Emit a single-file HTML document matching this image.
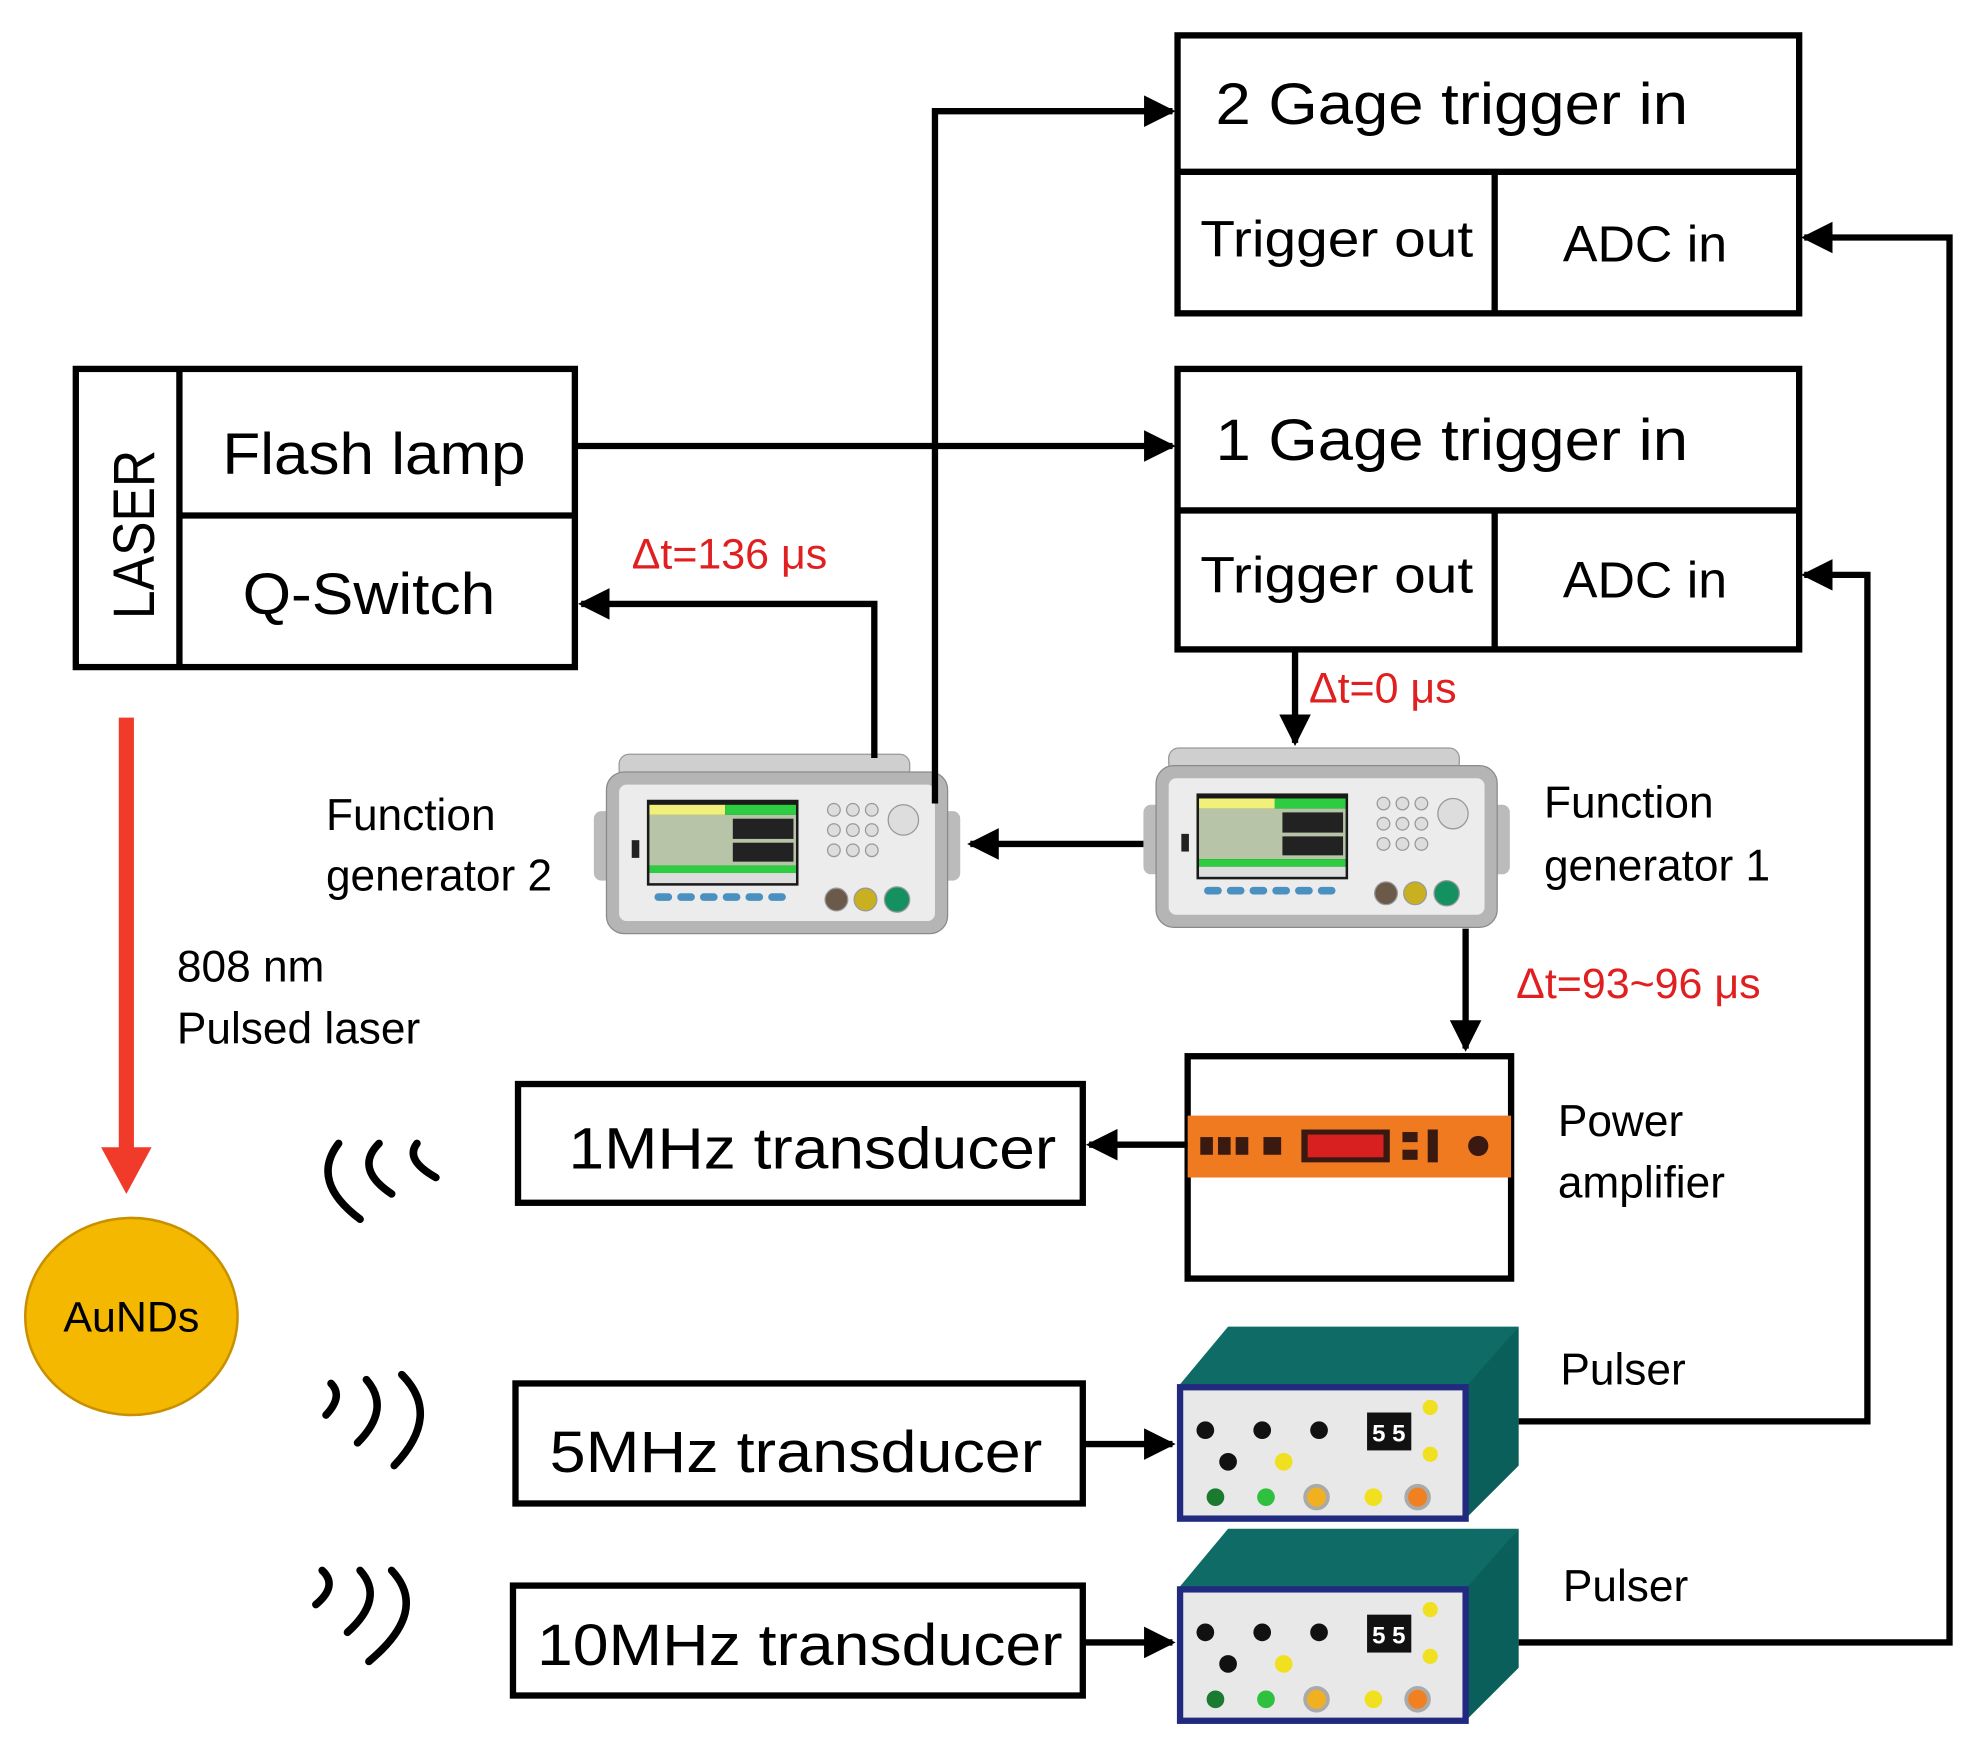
<!DOCTYPE html>
<html><head><meta charset="utf-8"><style>
html,body{margin:0;padding:0;background:#fff;}
svg{display:block;}
text{font-family:"Liberation Sans",sans-serif;}
</style></head><body>
<svg width="1971" height="1741" viewBox="0 0 1560 1378" preserveAspectRatio="none" xmlns="http://www.w3.org/2000/svg">
<defs>
<marker id="ah" markerWidth="5" markerHeight="5" refX="4.5" refY="2.5" orient="auto" markerUnits="strokeWidth">
<path d="M0,0 L5,2.5 L0,5 z" fill="#000"/></marker>
<g id="fg">
<rect x="20" y="0" width="230" height="20" rx="8" fill="#cfcfcf" stroke="#999"/>
<rect x="0" y="45" width="20" height="55" rx="6" fill="#bbb"/>
<rect x="268" y="45" width="22" height="55" rx="6" fill="#bbb"/>
<rect x="10" y="14" width="270" height="128" rx="14" fill="#b5b5b5" stroke="#8a8a8a"/>
<rect x="20" y="24" width="250" height="108" rx="6" fill="#ececec"/>
<rect x="42" y="36" width="120" height="68" fill="#1a1a1a"/>
<rect x="44" y="40" width="60" height="8" fill="#f0f07a"/>
<rect x="104" y="40" width="56" height="8" fill="#2ecc40"/>
<rect x="44" y="48" width="116" height="40" fill="#b8c4a8"/>
<rect x="110" y="51" width="48" height="16" fill="#222"/>
<rect x="110" y="70" width="48" height="15" fill="#222"/>
<rect x="44" y="88" width="116" height="6" fill="#2ecc40"/>
<rect x="44" y="94" width="116" height="8" fill="#ddd"/>
<rect x="30" y="68" width="6" height="14" fill="#222"/>
<g fill="#4a90c0"><rect x="48" y="110" width="14" height="6" rx="3"/><rect x="66" y="110" width="14" height="6" rx="3"/><rect x="84" y="110" width="14" height="6" rx="3"/><rect x="102" y="110" width="14" height="6" rx="3"/><rect x="120" y="110" width="14" height="6" rx="3"/><rect x="138" y="110" width="14" height="6" rx="3"/></g>
<g fill="#ddd" stroke="#999"><circle cx="190" cy="44" r="5"/><circle cx="205" cy="44" r="5"/><circle cx="220" cy="44" r="5"/><circle cx="190" cy="60" r="5"/><circle cx="205" cy="60" r="5"/><circle cx="220" cy="60" r="5"/><circle cx="190" cy="76" r="5"/><circle cx="205" cy="76" r="5"/><circle cx="220" cy="76" r="5"/><circle cx="245" cy="52" r="12"/></g>
<circle cx="192" cy="115" r="9" fill="#6b5a4a" stroke="#999"/>
<circle cx="215" cy="115" r="9" fill="#c8b020" stroke="#999"/>
<circle cx="240" cy="115" r="10" fill="#159060" stroke="#999"/>
</g>
<g id="pulser">
<polygon points="0,48 40,0 270,0 230,48" fill="#0e6b66"/>
<polygon points="228,48 270,0 270,110 228,152" fill="#0a5f5a"/>
<rect x="2" y="48" width="226" height="104" fill="#e8e8e8" stroke="#222a80" stroke-width="5"/>
<g fill="#111"><circle cx="22" cy="82" r="7"/><circle cx="67" cy="82" r="7"/><circle cx="112" cy="82" r="7"/><circle cx="40" cy="107" r="7"/></g>
<circle cx="84" cy="107" r="7" fill="#f0e020"/>
<rect x="150" y="68" width="35" height="30" fill="#111"/>
<text x="154" y="91" font-size="19" fill="#fff" font-weight="bold">5 5</text>
<circle cx="200" cy="64" r="6" fill="#f0e020"/><circle cx="200" cy="101" r="6" fill="#f0e020"/>
<circle cx="30" cy="135" r="7" fill="#1a7a30"/><circle cx="70" cy="135" r="7" fill="#30c040"/>
<circle cx="110" cy="135" r="9" fill="#f0b020" stroke="#aaa" stroke-width="3"/>
<circle cx="155" cy="135" r="7" fill="#f0e020"/>
<circle cx="190" cy="135" r="9" fill="#f08020" stroke="#aaa" stroke-width="3"/>
</g>
</defs>

<g fill="none" stroke="#000" stroke-width="5">
<rect x="932" y="28" width="492" height="220"/><line x1="932" y1="136" x2="1424" y2="136"/><line x1="1183" y1="136" x2="1183" y2="248"/>
<rect x="932" y="292" width="492" height="222"/><line x1="932" y1="404" x2="1424" y2="404"/><line x1="1183" y1="404" x2="1183" y2="514"/>
<rect x="60" y="292" width="395" height="236"/><line x1="142" y1="292" x2="142" y2="528"/><line x1="142" y1="408" x2="455" y2="408"/>
<rect x="410" y="858" width="447" height="94"/>
<rect x="408" y="1095" width="449" height="95"/>
<rect x="406" y="1255" width="451" height="87"/>
<rect x="940" y="836" width="256" height="176"/>
</g>
<g font-size="46" fill="#000">
<text x="962" y="98" textLength="374" lengthAdjust="spacingAndGlyphs">2 Gage trigger in</text>
<text x="962" y="364" textLength="374" lengthAdjust="spacingAndGlyphs">1 Gage trigger in</text>
<text x="176" y="375" textLength="240" lengthAdjust="spacingAndGlyphs">Flash lamp</text>
<text x="192" y="486" textLength="200" lengthAdjust="spacingAndGlyphs">Q-Switch</text>
<text x="450" y="925" textLength="386" lengthAdjust="spacingAndGlyphs">1MHz transducer</text>
<text x="435" y="1165" textLength="390" lengthAdjust="spacingAndGlyphs">5MHz transducer</text>
<text x="425" y="1318" textLength="416" lengthAdjust="spacingAndGlyphs">10MHz transducer</text>
<text transform="translate(122,490) rotate(-90)" textLength="134" lengthAdjust="spacingAndGlyphs">LASER</text>
</g>
<g font-size="40" fill="#000">
<text x="950" y="203" textLength="216" lengthAdjust="spacingAndGlyphs">Trigger out</text>
<text x="1237" y="207" textLength="130" lengthAdjust="spacingAndGlyphs">ADC in</text>
<text x="950" y="469" textLength="216" lengthAdjust="spacingAndGlyphs">Trigger out</text>
<text x="1237" y="473" textLength="130" lengthAdjust="spacingAndGlyphs">ADC in</text>
</g>
<g font-size="35" fill="#000">
<text x="258" y="657">Function</text><text x="258" y="705">generator 2</text>
<text x="1222" y="647">Function</text><text x="1222" y="697">generator 1</text>
<text x="140" y="777">808 nm</text><text x="140" y="826">Pulsed laser</text>
<text x="1233" y="899">Power</text><text x="1233" y="948">amplifier</text>
<text x="1235" y="1096">Pulser</text><text x="1237" y="1267">Pulser</text>
</g>
<g font-size="34" fill="#e02020">
<text x="500" y="450">Δt=136 μs</text>
<text x="1036" y="556">Δt=0 μs</text>
<text x="1200" y="790">Δt=93~96 μs</text>
</g>

<use href="#fg" x="470" y="597"/>
<use href="#fg" x="905" y="592"/>
<rect x="940" y="883" width="256" height="49" fill="#f07a20"/>
<g fill="#3a1a10"><rect x="950" y="900" width="10" height="14"/><rect x="964" y="900" width="10" height="14"/><rect x="978" y="900" width="10" height="14"/><rect x="1000" y="900" width="14" height="14"/><rect x="1030" y="894" width="70" height="26"/><rect x="1110" y="896" width="12" height="8"/><rect x="1110" y="910" width="12" height="8"/><rect x="1130" y="894" width="8" height="26"/><circle cx="1170" cy="907" r="8"/></g>
<rect x="1035" y="898" width="60" height="18" fill="#d82020"/>
<use href="#pulser" x="932" y="1050"/>
<use href="#pulser" x="932" y="1210"/>

<g fill="none" stroke="#000" stroke-width="5" marker-end="url(#ah)">
<polyline points="455,353 928,353"/>
<polyline points="740,636 740,88 928,88"/>
<polyline points="692,600 692,478 460,478"/>
<polyline points="1025,514 1025,588"/>
<polyline points="905,668 768,668"/>
<polyline points="1160,735 1160,830"/>
<polyline points="940,906 862,906"/>
<polyline points="857,1143 928,1143"/>
<polyline points="857,1300 928,1300"/>
<polyline points="1202,1125 1478,1125 1478,455 1428,455"/>
<polyline points="1202,1300 1543,1300 1543,188 1428,188"/>
</g>
<line x1="100" y1="568" x2="100" y2="910" stroke="#f03a2a" stroke-width="12"/>
<polygon points="80,908 120,908 100,945" fill="#f03a2a"/>
<ellipse cx="104" cy="1042" rx="84" ry="78" fill="#f5b800" stroke="#c89000" stroke-width="2"/>
<text x="104" y="1054" font-size="34" text-anchor="middle">AuNDs</text>
<g fill="none" stroke="#000" stroke-width="6" stroke-linecap="round">
<path d="M268,905 Q245,935 285,965"/><path d="M300,905 Q280,925 310,945"/><path d="M330,905 Q320,918 345,932"/>
<path d="M262,1095 Q272,1105 258,1120"/><path d="M290,1092 Q310,1115 283,1142"/><path d="M318,1088 Q350,1120 312,1160"/>
<path d="M255,1243 Q268,1255 250,1270"/><path d="M285,1243 Q305,1265 275,1292"/><path d="M310,1243 Q340,1275 292,1315"/>
</g>
</svg>
</body></html>
